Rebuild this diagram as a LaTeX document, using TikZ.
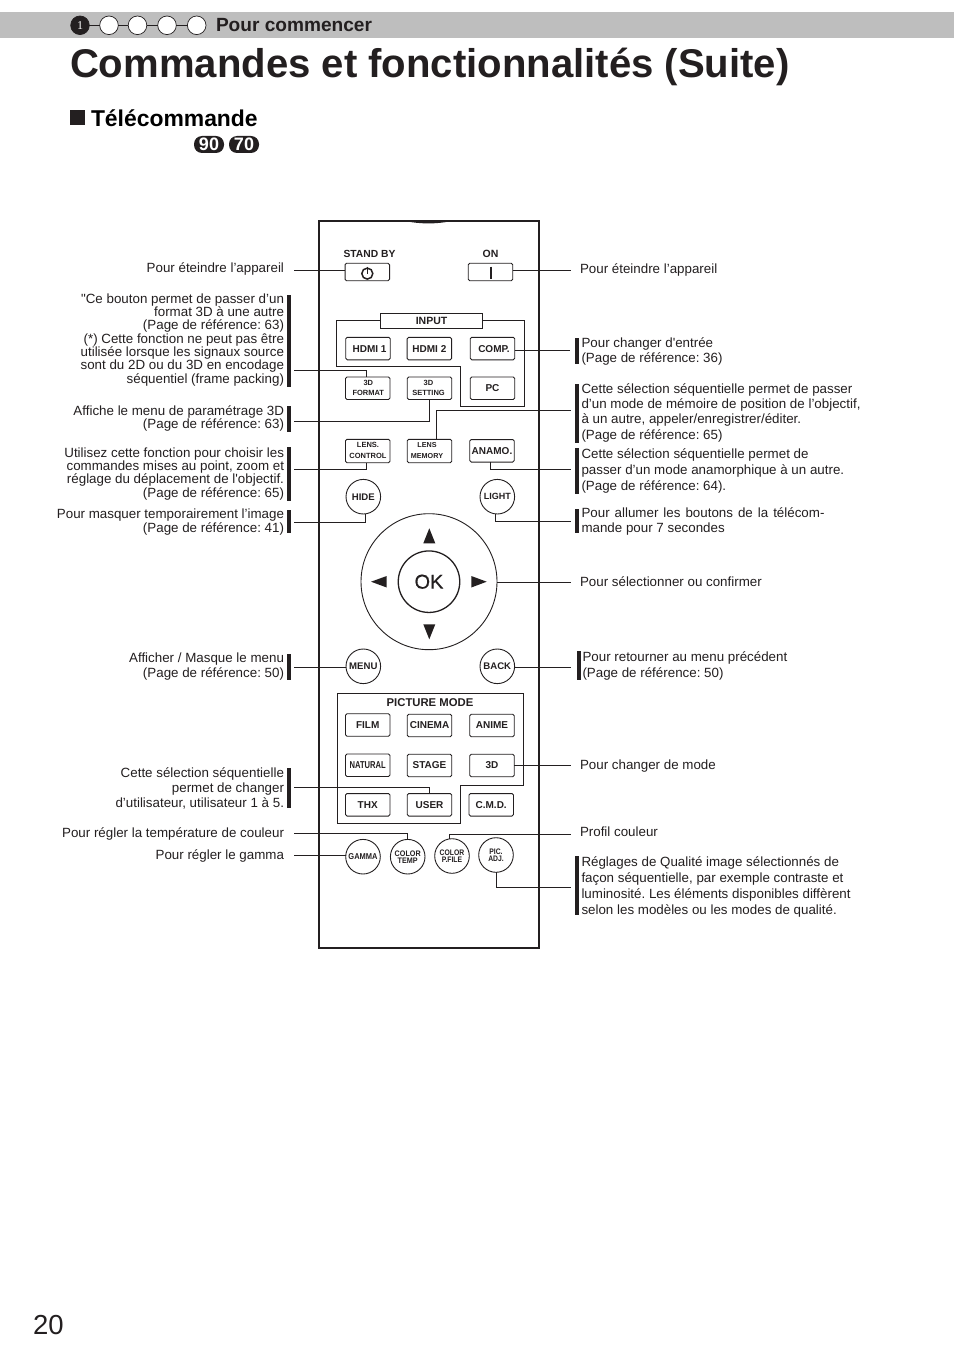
\documentclass[tikz,border=0pt]{standalone}
\usepackage{fontspec}
\setmainfont{Liberation Sans}[Ligatures=TeXOff]
\frenchspacing
\definecolor{ink}{HTML}{231F20}
\definecolor{band}{HTML}{BEBEBE}
\newcommand{\fs}[1]{\fontsize{#1}{#1}\selectfont}
\newfontfamily\okfont[FakeBold=0.5]{Liberation Sans}
\tikzset{
 x=1pt,y=-1pt,
 every node/.style={inner sep=0pt,outer sep=0pt,text=ink},
 btn/.style={draw=ink,line width=.9pt,rounded corners=1.5pt,minimum width=44.5pt,minimum height=22.5pt,font=\bfseries\fs{10},align=center},
 rbtn/.style={draw=ink,line width=.9pt,circle,minimum size=34.6pt,font=\bfseries\fs{9.6},align=center},
 small/.style={font=\bfseries\fs{7.5},align=center},
 ls/.style={font=\fontsize{13.35}{#1}\selectfont},
 lbl/.style={ls=13.33,align=right,anchor=north east},
 rbl/.style={ls=13.33,align=left,anchor=north west},
 bar/.style={fill=ink,draw=none},
 conn/.style={draw=ink,line width=.9pt},
 frame/.style={draw=ink,line width=.9pt},
 step1/.style={circle,draw=ink,line width=.7pt,fill=white,minimum size=18.6pt},
 tri/.style={fill=ink,draw=none},
 badge/.style={fill=ink,rounded corners=8pt,minimum width=30pt,minimum height=17pt,text=white,font=\bfseries\fs{18}},
}
\begin{document}
\begin{tikzpicture}
\useasboundingbox (0,0) rectangle (954,1356);
\fill[white] (0,0) rectangle (954,1356);
% header
\fill[band] (0,12) rectangle (954,38.5);
\node[step1,fill=ink,text=white] (s1) at (80,25.3) {\fontspec{Liberation Serif}\fs{12}\textcolor{white}{1}};
\node[step1] (s2) at (109,25.3) {};
\node[step1] (s3) at (137.5,25.3) {};
\node[step1] (s4) at (167,25.3) {};
\node[step1] (s5) at (196.7,25.3) {};
\draw[conn] (s1)--(s2) (s2)--(s3) (s3)--(s4) (s4)--(s5);
\node[anchor=base west,font=\bfseries\fs{19.1}] (hd) at (216,31.5) {Pour commencer};
\node[anchor=base west,font=\bfseries\fs{40.1}] (title) at (70,78) {Commandes et fonctionnalités (Suite)};
\fill[ink] (70,110) rectangle (85,125);
\node[anchor=base west,font=\bfseries\fs{22.9},text=black] (sec) at (91,126.3) {Télécommande};
\node[badge] (b90) at (209,144.5) {\textcolor{white}{90}};
\node[badge] (b70) at (244,144.5) {\textcolor{white}{70}};
\node[anchor=base west,font=\fs{27.5}] (pg) at (33,1334) {20};
% remote
\draw[draw=ink,line width=1.7pt] (319.3,220.7) rectangle (538.7,947.7);
\draw[ink,line width=1.2pt] (406.7,220.7) .. controls (420,223.5) and (437,223.5) .. (450,220.7);
% top buttons
\node[font=\bfseries\fs{10.3}] (lsb) at (369.5,254) {STAND BY};
\node[font=\bfseries\fs{10.5}] (lon) at (490.5,254) {ON};
\node[btn,minimum height=17.5pt] (sb) at (367.3,272) {};
\node[btn,minimum height=17.5pt] (on) at (490.5,272) {};
\draw[ink,line width=1.5pt] (367.3,273.6) circle (5.5);
\draw[ink,line width=1.5pt] (367.3,266.5) -- (367.3,274);
\draw[ink,line width=1.6pt] (490.7,266.5) -- (490.7,278.8);
% input
\draw[frame] (380.7,320.7) -- (336.7,320.7) -- (336.7,366) -- (460.3,366) -- (460.3,406.3) -- (524.3,406.3) -- (524.3,320.7) -- (482.3,320.7);
\node[draw=ink,line width=.9pt,minimum width=101.6pt,minimum height=15pt,font=\bfseries\fs{10.5}] (input) at (431.5,320.8) {INPUT};
\node[btn] (hdmi1) at (368,348.6) {\hspace{3pt}HDMI 1};
\node[btn] (hdmi2) at (429.4,348.6) {HDMI 2};
\node[btn] (comp) at (492.5,348.6) {\hspace{3pt}COMP.};
\node[btn] (fmt) at (367.7,388.2) {};
\node[small,align=center] at (368.3,388) (fmtl) {\raisebox{5.5pt}{3D}\\[-3pt]FORMAT};
\node[btn] (set) at (429.5,388.2) {};
\node[small] at (428.5,388) (setl) {\raisebox{5.5pt}{3D}\\[-3pt]SETTING};
\node[btn] (pc) at (492.5,388.2) {PC};
\node[btn,minimum height=23.4pt] (lc) at (367.7,451) {};
\node[small] at (368,450.5) (lcl) {LENS.\\[3pt]CONTROL};
\node[btn,minimum height=23.4pt] (lm) at (429.5,451) {};
\node[small,font=\bfseries\fs{7.2}] at (427,450.5) (lml) {LENS\\[3pt]MEMORY};
\node[btn] (ana) at (492,450.8) {ANAMO.};
% circles
\node[rbtn] (hide) at (363.3,496.7) {HIDE};
\node[rbtn,font=\bfseries\fs{9}] (light) at (497.3,496.7) {LIGHT};
\node[circle,draw=ink,line width=.9pt,minimum size=136pt] (pad) at (429,581.7) {};
\node[circle,draw=ink,line width=1.3pt,minimum size=61.5pt,font=\okfont\fs{20}] (ok) at (429,581.7) {OK};
\fill[tri] (429.3,528.3) -- (423.3,543.3) -- (435.3,543.3) -- cycle;
\fill[tri] (429.3,639.3) -- (423.3,624.3) -- (435.3,624.3) -- cycle;
\fill[tri] (371,581.7) -- (386.7,576) -- (386.7,587.5) -- cycle;
\fill[tri] (486.7,581.7) -- (471.3,576) -- (471.3,587.5) -- cycle;
\node[rbtn] (menu) at (363.3,666.3) {MENU};
\node[rbtn] (back) at (497.3,666.3) {BACK};
% picture mode
\draw[frame] (337,693.7) -- (523.7,693.7) -- (523.7,785.3) -- (460.3,785.3) -- (460.3,823.7) -- (337,823.7) -- cycle;
\node[font=\bfseries\fs{11.3}] (pm) at (430,702.3) {PICTURE MODE};
\node[btn] (film) at (367.7,725) {FILM};
\node[btn] (cin) at (429.5,725.5) {CINEMA};
\node[btn] (ani) at (492,725.5) {ANIME};
\node[btn] (nat) at (367.7,765.2) {\scalebox{.76}[1]{NATURAL}};
\node[btn] (stage) at (429.5,765.5) {STAGE};
\node[btn] (tdm) at (492,765.5) {3D};
\node[btn] (thx) at (367.7,804.8) {THX};
\node[btn] (user) at (429.5,804.8) {USER};
\node[btn] (cmd) at (491.2,804.8) {C.M.D.};
\node[rbtn,font=\bfseries\fs{8.5}] (gamma) at (363,856.7) {\scalebox{.88}[1]{GAMMA}};
\node[rbtn] (ctemp) at (407.7,856.7) {};
\node[small,font=\bfseries\fs{8}] at (407.7,856.7) (ctl) {\scalebox{.9}[1]{COLOR}\\[-1pt]\scalebox{.9}[1]{TEMP}};
\node[rbtn] (pfile) at (452,856) {};
\node[small,font=\bfseries\fs{8}] at (452,856) (pfl) {\scalebox{.85}[1]{COLOR}\\[-1pt]\scalebox{.85}[1]{P.FILE}};
\node[rbtn] (padj) at (496,855) {};
\node[small,font=\bfseries\fs{8}] at (496,855) (pal) {\scalebox{.85}[1]{PIC.}\\[-1pt]\scalebox{.85}[1]{ADJ.}};
% connector ends
\foreach \n/\x/\y in {a/294/270.3,b/571/270.3,c/570.3/350,d/294/370,e/294/421.3,f/571/410.3,g/294/469.3,h/571/469.3,i/294/522.3,j/571/521.3,k/571/582.3,l/294/667.3,m/571/667.3,n/571/765.3,o/294/787.3,p/294/833.3,q/294/855.7,r/571/834,s/571/887.3}
  \coordinate (e\n) at (\x,\y);
\draw[conn] (ea) -- (ea -| sb.west);
\draw[conn] (on.east |- eb) -- (eb);
\draw[conn] (comp.east |- ec) -- (ec);
\draw[conn] (ed) -| (fmt.north -| 366.7,0);
\draw[conn] (ee) -| (set.south -| 429.7,0);
\draw[conn] (lm.north -| 436.7,0) |- (ef);
\draw[conn] (eg) -| (lc.south -| 366.7,0);
\draw[conn] (ana.south -| 490.7,0) |- (eh);
\draw[conn] (ei) -| (365.5,513.6);
\draw[conn] (495.3,513.8) |- (ej);
\draw[conn] (pad.east |- ek) -- (ek);
\draw[conn] (el) -- (menu.west |- el);
\draw[conn] (back.east |- em) -- (em);
\draw[conn] (tdm.east |- en) -- (en);
\draw[conn] (eo) -| (user.north -| 429.7,0);
\draw[conn] (ep) -| (ctemp.north);
\draw[conn] (eq) -- (gamma.west |- eq);
\draw[conn] (449.3,838.9) |- (er);
\draw[conn] (padj.south) |- (es);
% bars
\fill[bar] (287.3,295.3) rectangle (291.3,387.3);
\fill[bar] (287.3,406) rectangle (291.3,431.7);
\fill[bar] (287.3,447.3) rectangle (291.3,500.7);
\fill[bar] (287.3,510) rectangle (291.3,533.3);
\fill[bar] (287.3,653.7) rectangle (291.3,680);
\fill[bar] (287.3,768.3) rectangle (291.3,808.3);
\fill[bar] (575.3,338.3) rectangle (579,364);
\fill[bar] (575.3,384) rectangle (579,442.7);
\fill[bar] (575.3,448) rectangle (579,493.5);
\fill[bar] (575.3,509.3) rectangle (579,532.7);
\fill[bar] (577,650.7) rectangle (581,680);
\fill[bar] (575.3,856) rectangle (579,915);
% left labels
\node[lbl] (t1) at (284,263) {Pour éteindre l’appareil};
\node[lbl] (t2) at (284,293.5) {"Ce bouton permet de passer d’un\\format 3D à une autre\\(Page de référence: 63)\\(*) Cette fonction ne peut pas être\\utilisée lorsque les signaux source\\sont du 2D ou du 3D en encodage\\séquentiel (frame packing)};
\node[lbl,ls=13] (t3) at (284,405.5) {Affiche le menu de paramétrage 3D\\(Page de référence: 63)};
\node[lbl] (t4) at (284,447.5) {Utilisez cette fonction pour choisir les\\commandes mises au point, zoom et\\réglage du déplacement de l'objectif.\\(Page de référence: 65)};
\node[lbl,ls=14] (t5) at (284,508.5) {Pour masquer temporairement l’image\\(Page de référence: 41)};
\node[lbl,ls=15] (t6) at (284,652.5) {Afficher / Masque le menu\\(Page de référence: 50)};
\node[lbl,ls=15] (t7) at (284,767.5) {Cette sélection séquentielle\\permet de changer\\d’utilisateur, utilisateur 1 à 5.};
\node[lbl] (t8) at (284,827.5) {Pour régler la température de couleur};
\node[lbl] (t9) at (284,849.5) {Pour régler le gamma};
% right labels
\node[rbl] (r1) at (580,263.5) {Pour éteindre l’appareil};
\node[rbl,ls=15] (r2) at (581.5,337.5) {Pour changer d'entrée\\(Page de référence: 36)};
\node[rbl,ls=15.3] (r3) at (581.5,383.5) {Cette sélection séquentielle permet de passer\\d’un mode de mémoire de position de l’objectif,\\à un autre, appeler/enregistrer/éditer.\\(Page de référence: 65)};
\node[rbl,ls=16] (r4) at (581.5,448.5) {Cette sélection séquentielle permet de\\passer d’un mode anamorphique à un autre.\\(Page de référence: 64).};
\node[rbl,ls=15] (r5) at (581.5,507.5) {\makebox[243pt][s]{Pour allumer les boutons de la télécom-}\\mande pour 7 secondes};
\node[rbl] (r6) at (580,576.5) {Pour sélectionner ou confirmer};
\node[rbl,ls=16] (r7) at (582.5,651.5) {Pour retourner au menu précédent\\(Page de référence: 50)};
\node[rbl] (r8) at (580,759.5) {Pour changer de mode};
\node[rbl] (r9) at (580,826.5) {Profil couleur};
\node[rbl,ls=16] (r10) at (581.5,856.5) {Réglages de Qualité image sélectionnés de\\façon séquentielle, par exemple contraste et\\luminosité. Les éléments disponibles diffèrent\\selon les modèles ou les modes de qualité.};
\end{tikzpicture}
\end{document}
